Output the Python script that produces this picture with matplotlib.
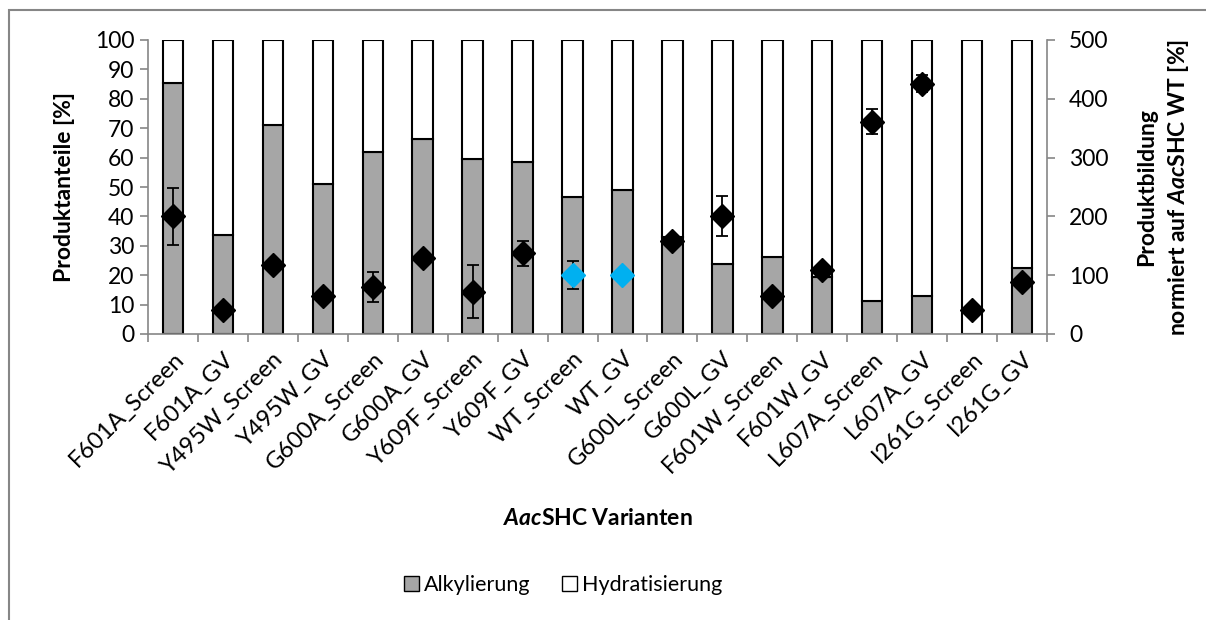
import matplotlib
matplotlib.use("Agg")
import matplotlib.pyplot as plt
from matplotlib.patches import Patch, Rectangle
import numpy as np

plt.rcParams['font.family'] = ['Lato', 'DejaVu Sans']
plt.rcParams['mathtext.fontset'] = 'custom'
plt.rcParams['mathtext.it'] = 'Lato:italic:bold'
plt.rcParams['mathtext.rm'] = 'Lato:bold'

# Varianten
varianten = ["F601A_Screen", "F601A_GV", "Y495W_Screen", "Y495W_GV",
             "G600A_Screen", "G600A_GV", "Y609F_Screen", "Y609F_GV",
             "WT_Screen", "WT_GV", "G600L_Screen", "G600L_GV",
             "F601W_Screen", "F601W_GV", "L607A_Screen", "L607A_GV",
             "I261G_Screen", "I261G_GV"]

# Produktanteile [%]
alkylierung = [85.5, 33.7, 71, 51, 61.8, 66.2, 59.5, 58.4, 46.7, 49.1,
               33.1, 23.7, 26.1, 19.5, 11.2, 12.9, 0, 22.6]
hydratisierung = [100 - a for a in alkylierung]

# Produktbildung normiert auf WT [%]
produktbildung = [200, 41, 117, 65, 80, 129, 72, 137, 100, 100,
                  158, 200, 64, 109, 361, 426, 40, 89]
fehler = [49, 3, 8, 3, 26, 8, 45, 21, 24, 0,
          5, 34, 3, 8, 21, 15, 3, 3]
wt_marker = ["WT_Screen", "WT_GV"]

grau = "#A6A6A6"
achse = "#868686"
fs = 16.5

fig = plt.figure(figsize=(12.06, 6.2), dpi=100)
ax = fig.add_axes([148/1206, 1-334/620, (1047-148)/1206, (334-40)/620])
ax2 = ax.twinx()

x = np.arange(len(varianten))
ax.bar(x, alkylierung, width=0.41, color=grau, edgecolor="black", linewidth=1.5, zorder=2)
ax.bar(x, hydratisierung, bottom=alkylierung, width=0.41, color="white",
       edgecolor="black", linewidth=1.5, zorder=2)

for i, name in enumerate(varianten):
    farbe = "#00B0F0" if name in wt_marker else "black"
    ax2.errorbar(x[i], produktbildung[i], yerr=fehler[i], fmt="D", color=farbe,
                 ecolor="black", elinewidth=1.3, capsize=4.5, capthick=1.3,
                 markersize=12, zorder=3)

ax.set_xlim(-0.5, len(varianten) - 0.5)
ax.set_ylim(0, 100)
ax2.set_ylim(0, 500)
ax.set_yticks(np.arange(0, 101, 10))
ax2.set_yticks(np.arange(0, 501, 100))

ax.set_xticks(x)
ax.set_xticklabels(varianten, rotation=45, ha="right", rotation_mode="anchor", fontsize=17)
ax.set_xticks(np.arange(-0.5, len(varianten)), minor=True)
ax.tick_params(axis="x", which="major", length=0, pad=10)
ax.tick_params(axis="x", which="minor", length=6, color=achse, width=1.2)
ax.tick_params(axis="y", labelsize=fs, length=6, color=achse, width=1.2, pad=4)
ax2.tick_params(axis="y", labelsize=fs, length=6, color=achse, width=1.2, pad=10)

for a in (ax, ax2):
    a.spines["top"].set_visible(False)
    for s in ("left", "right", "bottom"):
        a.spines[s].set_color(achse)
        a.spines[s].set_linewidth(1.2)
ax.spines["right"].set_visible(False)
ax2.spines["left"].set_visible(False)
ax2.spines["bottom"].set_visible(False)

ax.set_ylabel("Produktanteile [%]", fontsize=fs, fontweight="bold", labelpad=14)
ax2.set_ylabel("Produktbildung\nnormiert auf $Aac$SHC WT [%]", fontsize=fs,
               fontweight="bold", labelpad=20, linespacing=1.45)
ax.set_xlabel("$Aac$SHC Varianten", fontsize=fs, fontweight="bold", labelpad=22)

handles = [Patch(facecolor=grau, edgecolor="black", label="Alkylierung"),
           Patch(facecolor="white", edgecolor="black", label="Hydratisierung")]
fig.legend(handles=handles, loc="center", bbox_to_anchor=(563/1206, 1-585/620), ncol=2,
           frameon=False, fontsize=15.5, handlelength=0.7, handleheight=0.7,
           handletextpad=0.2, columnspacing=1.5)

fig.add_artist(Rectangle((9/1206, -0.1), 1.2, 1.1 - 10/620,
                         transform=fig.transFigure, fill=False, edgecolor=achse,
                         linewidth=1.5))

fig.savefig("out.png", dpi=100)
